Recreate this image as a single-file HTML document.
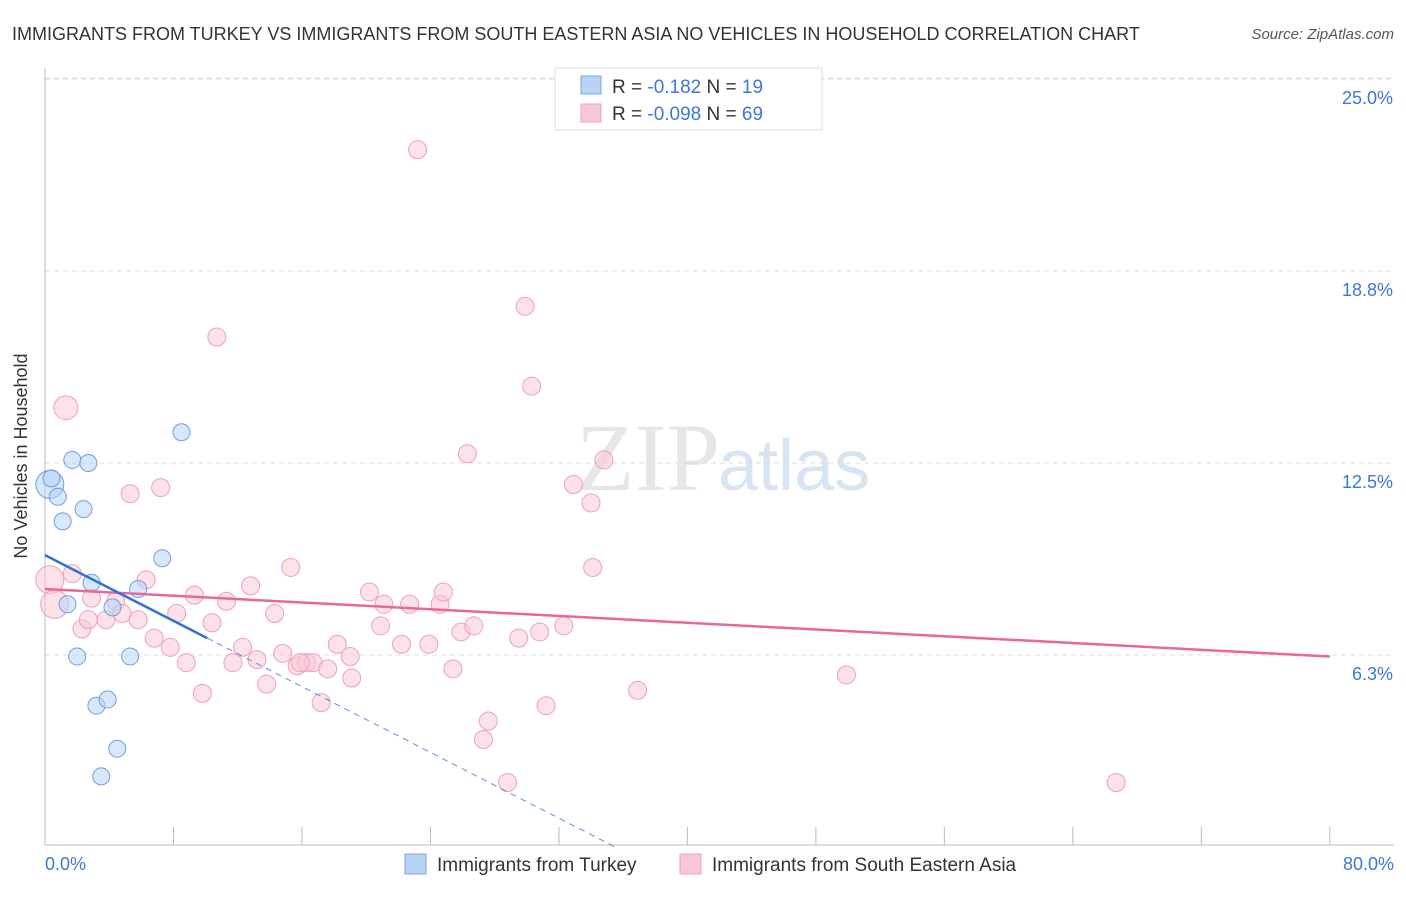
<!DOCTYPE html>
<html><head><meta charset="utf-8"><style>
body{margin:0;background:#fff;font-family:"Liberation Sans",sans-serif;}
</style></head><body>
<svg id="c" width="1406" height="892" xmlns="http://www.w3.org/2000/svg">
<text x="12" y="40" font-size="18" fill="#333">IMMIGRANTS FROM TURKEY VS IMMIGRANTS FROM SOUTH EASTERN ASIA NO VEHICLES IN HOUSEHOLD CORRELATION CHART</text>
<text x="1394" y="39" font-size="15" fill="#555" font-style="italic" text-anchor="end">Source: ZipAtlas.com</text>
<text x="720" y="490" font-size="96" fill="#e6e6e6" text-anchor="end" font-family="Liberation Serif">ZIP</text>
<text x="718" y="490" font-size="72" fill="#d6e4f4">atlas</text>
<g id="grid"></g>
<line x1="45" y1="68" x2="45" y2="845" stroke="#bbb"/>
<line x1="45" y1="845" x2="1394" y2="845" stroke="#bbb"/>
<text x="27" y="456" font-size="18" fill="#333" text-anchor="middle" transform="rotate(-90 27 456)">No Vehicles in Household</text>
<text x="45" y="870" font-size="18" fill="#3b78d8">0.0%</text>
<text x="1394" y="870" font-size="18" fill="#3b78d8" text-anchor="end">80.0%</text>
<g id="pts"></g>
<g>
<rect x="555" y="68" width="267" height="62" fill="#fff" stroke="#ddd"/>
<rect x="581" y="76" width="20" height="18" fill="#b8d3f5" stroke="#7aa7e0"/>
<rect x="581" y="104" width="20" height="18" fill="#f9c8d6" stroke="#eea0b8"/>
<text x="612" y="93" font-size="19" fill="#333">R =  <tspan fill="#3b78d8">-0.182</tspan>   N =  <tspan fill="#3b78d8">19</tspan></text>
<text x="612" y="120" font-size="19" fill="#333">R = <tspan fill="#3b78d8">-0.098</tspan>   N = <tspan fill="#3b78d8">69</tspan></text>
</g>
<g>
<rect x="405" y="854" width="21" height="20" fill="#b8d3f5" stroke="#7aa7e0"/>
<text x="437" y="871" font-size="19" fill="#333">Immigrants from Turkey</text>
<rect x="680" y="854" width="21" height="20" fill="#f9c8d6" stroke="#eea0b8"/>
<text x="712" y="871" font-size="19" fill="#333">Immigrants from South Eastern Asia</text>
</g>
</svg>
<script>
const yTicks=[6.25,12.5,18.75,25];
const yTickLabels=["6.3%","12.5%","18.8%","25.0%"];
const turkeyX=[0.3,0.4,0.8,1.1,1.7,2.7,2.4,1.4,2.9,4.2,5.8,7.3,8.5,2.0,5.3,3.2,3.9,4.5,3.5];
const turkeyY=[11.8,12.0,11.4,10.6,12.6,12.5,11.0,7.9,8.6,7.8,8.4,9.4,13.5,6.2,6.2,4.6,4.8,3.2,2.3];
const seaX=[1.3,0.3,0.6,1.7,2.9,2.3,2.7,3.8,4.4,4.8,5.8,6.3,6.8,7.8,5.3,7.2,8.2,9.3,8.8,9.8,10.4,10.7,11.3,11.7,12.3,12.8,13.2,13.8,14.3,15.3,14.8,15.7,16.3,16.7,17.2,17.6,19.0,19.1,18.2,20.2,20.9,21.1,22.2,22.7,23.2,23.9,24.6,24.8,25.9,25.4,26.3,26.7,27.6,27.3,28.8,29.5,29.9,30.3,30.8,31.2,32.3,32.9,34.0,34.1,34.8,36.9,49.9,66.7,15.9];
const seaY=[14.3,8.7,7.9,8.9,8.1,7.1,7.4,7.4,8.0,7.6,7.4,8.7,6.8,6.5,11.5,11.7,7.6,8.2,6.0,5.0,7.3,16.6,8.0,6.0,6.5,8.5,6.1,5.3,7.6,9.1,6.3,5.9,6.0,6.0,4.7,5.8,6.2,5.5,6.6,8.3,7.2,7.9,6.6,7.9,22.7,6.6,7.9,8.3,7.0,5.8,12.8,7.2,4.1,3.5,2.1,6.8,17.6,15.0,7.0,4.6,7.2,11.8,11.2,9.1,12.6,5.1,5.6,2.1,6.0];
const X=v=>45+v*16.06, Y=v=>847-v*30.72;
const NS="http://www.w3.org/2000/svg";
const grid=document.getElementById('grid');
yTicks.forEach((t,i)=>{
 const l=document.createElementNS(NS,'line');
 l.setAttribute('x1',45);l.setAttribute('x2',1394);l.setAttribute('y1',Y(t));l.setAttribute('y2',Y(t));
 l.setAttribute('stroke','#ddd');l.setAttribute('stroke-dasharray','5,4');
 
 
 grid.appendChild(l);
 const tx=document.createElementNS(NS,'text');
 tx.setAttribute('x',1393);tx.setAttribute('y',Y(t)+25);tx.setAttribute('font-size','18');tx.setAttribute('fill','#3b78d8');tx.setAttribute('text-anchor','end');
 tx.textContent=yTickLabels[i];
 
 
 grid.appendChild(tx);
});
const topL=document.createElementNS(NS,'line');
topL.setAttribute('x1',45);topL.setAttribute('x2',1394);topL.setAttribute('y1',78);topL.setAttribute('y2',78);topL.setAttribute('stroke','#ddd');topL.setAttribute('stroke-dasharray','5,4');


grid.appendChild(topL);
for(let i=1;i<=10;i++){
 const t=document.createElementNS(NS,'line');
 const x=X(i*8);
 t.setAttribute('x1',x);t.setAttribute('x2',x);t.setAttribute('y1',827);t.setAttribute('y2',845);t.setAttribute('stroke','#bbb');
 
 
 grid.appendChild(t);
}
const pts=document.getElementById('pts');
function circ(x,y,r,fill,stroke,name){
 const c=document.createElementNS(NS,'circle');
 c.setAttribute('cx',X(x));c.setAttribute('cy',Y(y));c.setAttribute('r',r);
 c.setAttribute('fill',fill);c.setAttribute('stroke',stroke);c.setAttribute('fill-opacity','0.55');
 
 
 pts.appendChild(c);
}
seaX.forEach((x,i)=>circ(x,seaY[i],(i<3)?(i==0?12:14):9,'#f9c8d6','#eea0b8','sea-point'));
turkeyX.forEach((x,i)=>circ(x,turkeyY[i],i==0?14:8.5,'#b8d3f5','#6f9fde','turkey-point'));
function line(x1,y1,x2,y2,col,w,dash,name){
 const l=document.createElementNS(NS,'line');
 l.setAttribute('x1',X(x1));l.setAttribute('y1',Y(y1));l.setAttribute('x2',X(x2));l.setAttribute('y2',Y(y2));
 l.setAttribute('stroke',col);l.setAttribute('stroke-width',w);if(dash)l.setAttribute('stroke-dasharray',dash);
 
 
 pts.appendChild(l);
}
line(0,8.4,80,6.2,'#e8689a',2.5,null,'sea-trendline');
line(0,9.5,10.1,6.8,'#2f72d6',2.5,null,'turkey-trendline');
line(10.1,6.8,35.5,0,'#5b8fdc',1,'6,5','turkey-trendline-extension');
</script>
</body></html>
